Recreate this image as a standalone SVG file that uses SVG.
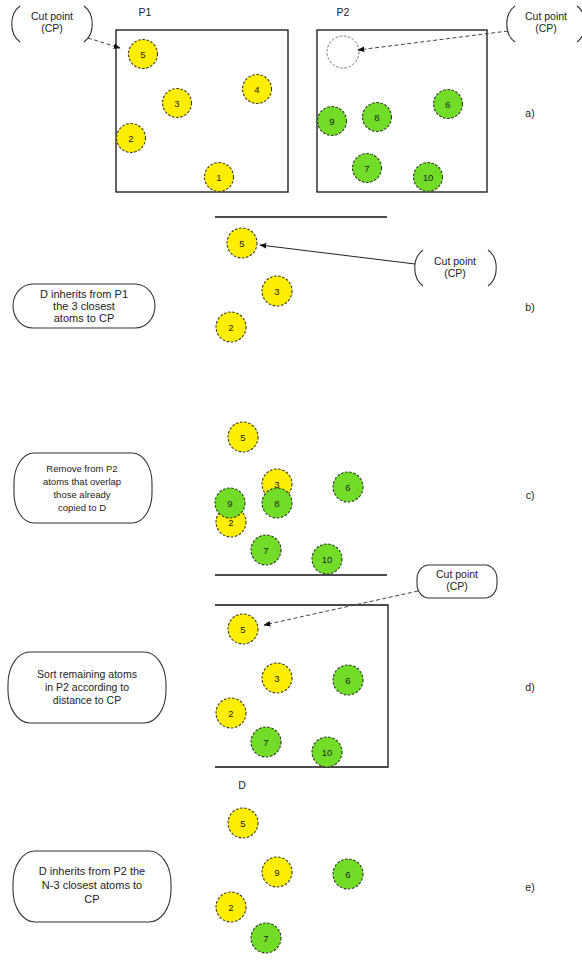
<svg xmlns="http://www.w3.org/2000/svg" width="582" height="960" viewBox="0 0 582 960">
  <style>
    text { font-family: "Liberation Sans", Arial, sans-serif; fill: #222; text-anchor: middle; }
    .frame { fill: none; stroke: #111; stroke-width: 1.3; }
    .shape { fill: #fff; stroke: #333; stroke-width: 1.1; }
    .bracket { fill: none; stroke: #333; stroke-width: 1.1; }
    .y circle { fill: #ffee00; stroke: #3a3a2a; stroke-width: 1.1; stroke-dasharray: 2.6 1.6; }
    .g circle { fill: #72dc28; stroke: #2c3a20; stroke-width: 1.1; stroke-dasharray: 2.6 1.6; }
    .ghost { fill: none; stroke: #777; stroke-width: 1; stroke-dasharray: 2.6 1.6; }
    .num { font-size: 9.5px; }
    .lbl { font-size: 10.5px; }
    .cp { font-size: 10.5px; }
    .solid { fill: none; stroke: #222; stroke-width: 1; }
    .dash { fill: none; stroke: #444; stroke-width: 1; stroke-dasharray: 4 2.5; }
  </style>
  <defs>
    <marker id="head" viewBox="0 0 10 10" refX="9" refY="5" markerWidth="7" markerHeight="7" orient="auto">
      <path d="M0,1 L10,5 L0,9 z" fill="#111"/>
    </marker>
    <!-- reusable atoms -->
    <circle id="atom" r="15"/>
  </defs>

  <rect width="582" height="960" fill="#fff"/>

  <!-- ===== a) parents ===== -->
  <g id="cp-a1">
    <path class="bracket" d="M20,6 C9,14 9,34 20,42 M84,6 C95,14 95,34 84,42"/>
    <text class="cp" x="52" y="20">Cut point</text>
    <text class="cp" x="52" y="32">(CP)</text>
  </g>
  <g id="p1">
    <text class="lbl" x="145" y="16">P1</text>
    <rect class="frame" x="116" y="30" width="172" height="162"/>
  </g>
  <g id="p1-5" class="y"><circle cx="143" cy="54" r="14.5"/><text class="num" x="143" y="57.5">5</text></g>
  <g id="p1-3" class="y"><circle cx="177" cy="103" r="14.5"/><text class="num" x="177" y="106.5">3</text></g>
  <g id="p1-4" class="y"><circle cx="257" cy="89" r="14.5"/><text class="num" x="257" y="92.5">4</text></g>
  <g id="p1-2" class="y"><circle cx="131" cy="138" r="14.5"/><text class="num" x="131" y="141.5">2</text></g>
  <g id="p1-1" class="y"><circle cx="219" cy="177" r="14.5"/><text class="num" x="219" y="180.5">1</text></g>

  <g id="p2">
    <text class="lbl" x="343" y="16">P2</text>
    <rect class="frame" x="317" y="30" width="170" height="162"/>
  </g>
  <g id="p2-cp-slot"><circle class="ghost" cx="343" cy="52" r="16"/></g>
  <g id="p2-9" class="g"><circle cx="332" cy="121" r="14.5"/><text class="num" x="332" y="124.5">9</text></g>
  <g id="p2-8" class="g"><circle cx="377" cy="117" r="14.5"/><text class="num" x="377" y="120.5">8</text></g>
  <g id="p2-6" class="g"><circle cx="448" cy="104" r="14.5"/><text class="num" x="448" y="107.5">6</text></g>
  <g id="p2-7" class="g"><circle cx="367" cy="168" r="14.5"/><text class="num" x="367" y="171.5">7</text></g>
  <g id="p2-10" class="g"><circle cx="428" cy="177" r="14.5"/><text class="num" x="428" y="180.5">10</text></g>
  <g id="cp-a2">
    <path class="bracket" d="M515,6 C504,14 504,34 515,42 M577,6 C588,14 588,34 577,42"/>
    <text class="cp" x="546" y="20">Cut point</text>
    <text class="cp" x="546" y="32">(CP)</text>
  </g>
  <g id="tag-a"><text class="lbl" x="530" y="117">a)</text></g>

  <!-- ===== b) inherit from P1 ===== -->
  <g id="d-top-b"><line class="frame" x1="215" y1="217" x2="387" y2="217"/></g>
  <g id="b-5" class="y"><circle cx="242" cy="243" r="15"/><text class="num" x="242" y="246.5">5</text></g>
  <g id="b-3" class="y"><circle cx="277" cy="291" r="15"/><text class="num" x="277" y="294.5">3</text></g>
  <g id="b-2" class="y"><circle cx="231" cy="327" r="15"/><text class="num" x="231" y="330.5">2</text></g>
  <g id="cp-b">
    <path class="bracket" d="M423,250 C412,258 412,278 423,286 M488,250 C499,258 499,278 488,286"/>
    <text class="cp" x="455" y="265">Cut point</text>
    <text class="cp" x="455" y="277">(CP)</text>
  </g>
  <g id="note-b">
    <rect class="shape" x="13" y="284" width="142" height="44" rx="20" ry="22"/>
    <text x="84" y="298" font-size="11">D inherits from P1</text>
    <text x="84" y="310" font-size="11">the 3 closest</text>
    <text x="84" y="322" font-size="11">atoms to CP</text>
  </g>
  <g id="tag-b"><text class="lbl" x="530" y="311">b)</text></g>

  <!-- ===== c) remove overlapping atoms ===== -->
  <g id="c-5" class="y"><circle cx="243" cy="437" r="15"/><text class="num" x="243" y="440.5">5</text></g>
  <g id="c-3" class="y"><circle cx="277" cy="484" r="15"/><text class="num" x="277" y="487.5">3</text></g>
  <g id="c-2" class="y"><circle cx="231" cy="522" r="15"/><text class="num" x="231" y="525.5">2</text></g>
  <g id="c-8" class="g"><circle cx="277" cy="503" r="15"/><text class="num" x="277" y="506.5">8</text></g>
  <g id="c-9" class="g"><circle cx="230" cy="503" r="15"/><text class="num" x="230" y="506.5">9</text></g>
  <g id="c-6" class="g"><circle cx="348" cy="487" r="15"/><text class="num" x="348" y="490.5">6</text></g>
  <g id="c-7" class="g"><circle cx="266" cy="550" r="15"/><text class="num" x="266" y="553.5">7</text></g>
  <g id="c-10" class="g"><circle cx="327" cy="559" r="15"/><text class="num" x="327" y="562.5">10</text></g>
  <g id="d-bottom-c"><line class="frame" x1="215" y1="575" x2="387" y2="575"/></g>
  <g id="note-c">
    <rect class="shape" x="14" y="453" width="138" height="70" rx="20" ry="30"/>
    <text x="82" y="472" font-size="9.5">Remove from P2</text>
    <text x="82" y="485" font-size="9.5">atoms that overlap</text>
    <text x="82" y="498" font-size="9.5">those already</text>
    <text x="82" y="511" font-size="9.5">copied to D</text>
  </g>
  <g id="tag-c"><text class="lbl" x="530" y="499">c)</text></g>

  <!-- ===== d) sort remaining atoms ===== -->
  <g id="cp-d">
    <rect class="shape" x="417" y="565" width="80" height="33" rx="12" ry="14"/>
    <text class="cp" x="457" y="578">Cut point</text>
    <text class="cp" x="457" y="590">(CP)</text>
  </g>
  <g id="d-frame"><path class="frame" d="M215,605 H388 V767 H215"/></g>
  <g id="d-5" class="y"><circle cx="243" cy="629" r="15"/><text class="num" x="243" y="632.5">5</text></g>
  <g id="d-3" class="y"><circle cx="277" cy="678" r="15"/><text class="num" x="277" y="681.5">3</text></g>
  <g id="d-6" class="g"><circle cx="348" cy="680" r="15"/><text class="num" x="348" y="683.5">6</text></g>
  <g id="d-2" class="y"><circle cx="231" cy="713" r="15"/><text class="num" x="231" y="716.5">2</text></g>
  <g id="d-7" class="g"><circle cx="266" cy="742" r="15"/><text class="num" x="266" y="745.5">7</text></g>
  <g id="d-10" class="g"><circle cx="327" cy="752" r="15"/><text class="num" x="327" y="755.5">10</text></g>
  <g id="note-d">
    <rect class="shape" x="8" y="652" width="158" height="71" rx="22" ry="32"/>
    <text x="87" y="678" font-size="10.5">Sort remaining atoms</text>
    <text x="87" y="691" font-size="10.5">in P2 according to</text>
    <text x="87" y="704" font-size="10.5">distance to CP</text>
  </g>
  <g id="tag-d"><text class="lbl" x="530" y="691">d)</text></g>

  <!-- ===== e) child D ===== -->
  <g id="child-d"><text class="lbl" x="242" y="789">D</text></g>
  <g id="e-5" class="y"><circle cx="243" cy="823" r="15"/><text class="num" x="243" y="826.5">5</text></g>
  <g id="e-9" class="y"><circle cx="277" cy="872" r="15"/><text class="num" x="277" y="875.5">9</text></g>
  <g id="e-6" class="g"><circle cx="348" cy="874" r="15"/><text class="num" x="348" y="877.5">6</text></g>
  <g id="e-2" class="y"><circle cx="231" cy="907" r="15"/><text class="num" x="231" y="910.5">2</text></g>
  <g id="e-7" class="g"><circle cx="266" cy="938" r="15"/><text class="num" x="266" y="941.5">7</text></g>
  <g id="note-e">
    <rect class="shape" x="13" y="851" width="158" height="71" rx="22" ry="32"/>
    <text x="92" y="875" font-size="11">D inherits from P2 the</text>
    <text x="92" y="889" font-size="11">N-3 closest atoms to</text>
    <text x="92" y="903" font-size="11">CP</text>
  </g>
  <g id="tag-e"><text class="lbl" x="530" y="891">e)</text></g>

  <!-- connectors: cut point callouts -->
  <g id="connectors">
    <line class="dash" x1="88" y1="38" x2="120" y2="48" marker-end="url(#head)"/>
    <line class="dash" x1="508" y1="31" x2="358" y2="50" marker-end="url(#head)"/>
    <line class="solid" x1="415" y1="264" x2="260" y2="245" marker-end="url(#head)"/>
    <line class="dash" x1="418" y1="591" x2="264" y2="625" marker-end="url(#head)"/>
  </g>
</svg>
